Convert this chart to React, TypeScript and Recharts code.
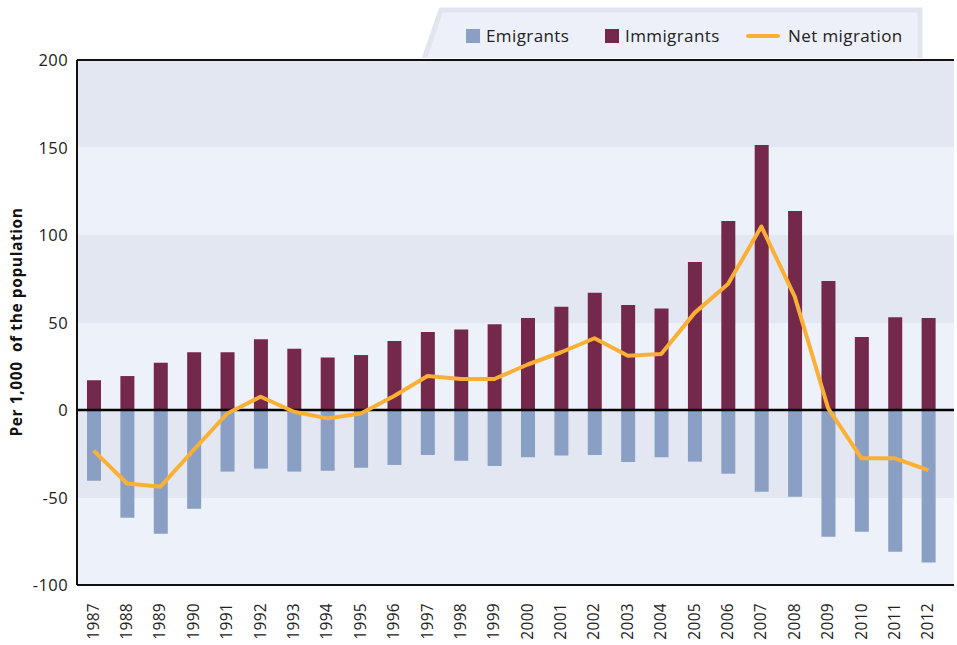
import React from 'react';
import { ComposedChart, Bar, Line, XAxis, YAxis, CartesianGrid, ReferenceLine, Legend } from 'recharts';

const years = ['1987', '1988', '1989', '1990', '1991', '1992', '1993', '1994', '1995', '1996', '1997', '1998', '1999',
  '2000', '2001', '2002', '2003', '2004', '2005', '2006', '2007', '2008', '2009', '2010', '2011', '2012'];

// per 1,000 of the population
const emigrants = [-40.4, -61.5, -70.7, -56.4, -35.2, -33.5, -35.2, -34.7, -33, -31.4, -25.7, -29, -32,
  -27, -26, -25.7, -29.7, -27, -29.5, -36.4, -46.7, -49.5, -72.4, -69.5, -81, -87.2];
const immigrants = [17, 19.4, 27, 33, 33, 40.5, 35, 30, 31.4, 39.4, 44.6, 46, 49,
  52.6, 59, 67, 60, 58, 84.6, 108, 151.4, 113.7, 73.7, 41.7, 53, 52.6];
const netMigration = [-23.2, -42, -43.8, -22.7, -2, 7.6, -1, -4.8, -2, 8, 19.4, 17.7, 17.7,
  26, 33, 41, 31, 32, 55.5, 72, 104.8, 64.8, 1, -27.6, -27.6, -34.3];

const yTicks = [-100, -50, 0, 50, 100, 150, 200];

const data = years.map((year, i) => ({
  year,
  emigrants: emigrants[i],
  immigrants: immigrants[i],
  net: netMigration[i],
}));

const FONT = '"Open Sans", "DejaVu Sans", sans-serif';
const COL_EMI = '#8a9fc4';
const COL_IMM = '#74294b';
const COL_NET = '#fbb034';

const XTick = (props: any) => {
  const { x, y, payload } = props;
  return (
    <text
      x={x + 5}
      y={y + 10}
      transform={`rotate(-90 ${x + 5} ${y + 10})`}
      textAnchor="end"
      fontSize={15.5}
      letterSpacing={0.3}
      fontFamily={FONT}
      fill="#222"
    >
      {payload.value}
    </text>
  );
};

const YTick = (props: any) => {
  const { x, y, payload } = props;
  return (
    <text x={x - 1} y={y + 6} textAnchor="end" fontSize={16.5} letterSpacing={0.4} fontFamily={FONT} fill="#222">
      {payload.value}
    </text>
  );
};

const LegendBox = () => {
  const items = [
    { label: 'Emigrants', type: 'square', color: COL_EMI, x: 466 },
    { label: 'Immigrants', type: 'square', color: COL_IMM, x: 605 },
    { label: 'Net migration', type: 'line', color: COL_NET, x: 748 },
  ];
  return (
    <svg width={957} height={58}>
      <polygon points="441,10 920,10 920,62 423,62" fill="#edf0f8" stroke="#e1e5ef" strokeWidth={5} />
      {items.map((it) => (
        <g key={it.label}>
          {it.type === 'square' ? (
            <rect x={it.x} y={29} width={14} height={14} fill={it.color} />
          ) : (
            <line x1={it.x} x2={it.x + 30} y1={36} y2={36} stroke={it.color} strokeWidth={4} strokeLinecap="round" />
          )}
          <text
            x={it.type === 'square' ? it.x + 20 : it.x + 40}
            y={42}
            fontSize={17}
            letterSpacing={0.4}
            fontFamily={FONT}
            fill="#222"
          >
            {it.label}
          </text>
        </g>
      ))}
    </svg>
  );
};

const YLabel = () => (
  <text
    x={22}
    y={322}
    transform="rotate(-90 22 322)"
    textAnchor="middle"
    fontSize={15.5}
    letterSpacing={0.6}
    fontWeight="bold"
    fontFamily={FONT}
    fill="#111"
    style={{ whiteSpace: 'pre' }}
  >
    {'Per 1,000  of the population'}
  </text>
);

export default function App() {
  return (
    <div style={{ position: 'absolute', left: 0, top: 0, width: 957, height: 645, background: '#fff' }}>
      <ComposedChart
        width={957}
        height={645}
        data={data}
        stackOffset="sign"
        margin={{ top: 60, right: 3, bottom: 0, left: 0 }}
      >
        <CartesianGrid
          vertical={false}
          stroke="transparent"
          horizontalFill={['#e3e7f2', '#edf1f9']}
          fillOpacity={1}
        />
        <XAxis
          dataKey="year"
          interval={0}
          height={60}
          padding={{ left: 0, right: 9 }}
          axisLine={{ stroke: '#111', strokeWidth: 2 }}
          tickLine={false}
          tick={<XTick />}
        />
        <YAxis
          width={77}
          domain={[-100, 200]}
          ticks={yTicks}
          interval={0}
          axisLine={{ stroke: '#111', strokeWidth: 2 }}
          tickLine={false}
          tick={<YTick />}
          label={<YLabel />}
        />
        <Legend verticalAlign="middle" content={<LegendBox />} wrapperStyle={{ top: 0, left: 0, width: 957, height: 58 }} />
        <Bar dataKey="immigrants" stackId="a" fill={COL_IMM} barSize={14} isAnimationActive={false} />
        <Bar dataKey="emigrants" stackId="a" fill={COL_EMI} barSize={14} isAnimationActive={false} />
        <ReferenceLine y={0} stroke="#000" strokeWidth={2.5} />
        <ReferenceLine y={200} stroke="#111" strokeWidth={2} />
        <Line
          type="linear"
          dataKey="net"
          stroke={COL_NET}
          strokeWidth={4}
          dot={false}
          strokeLinejoin="round"
          isAnimationActive={false}
        />
      </ComposedChart>
    </div>
  );
}
